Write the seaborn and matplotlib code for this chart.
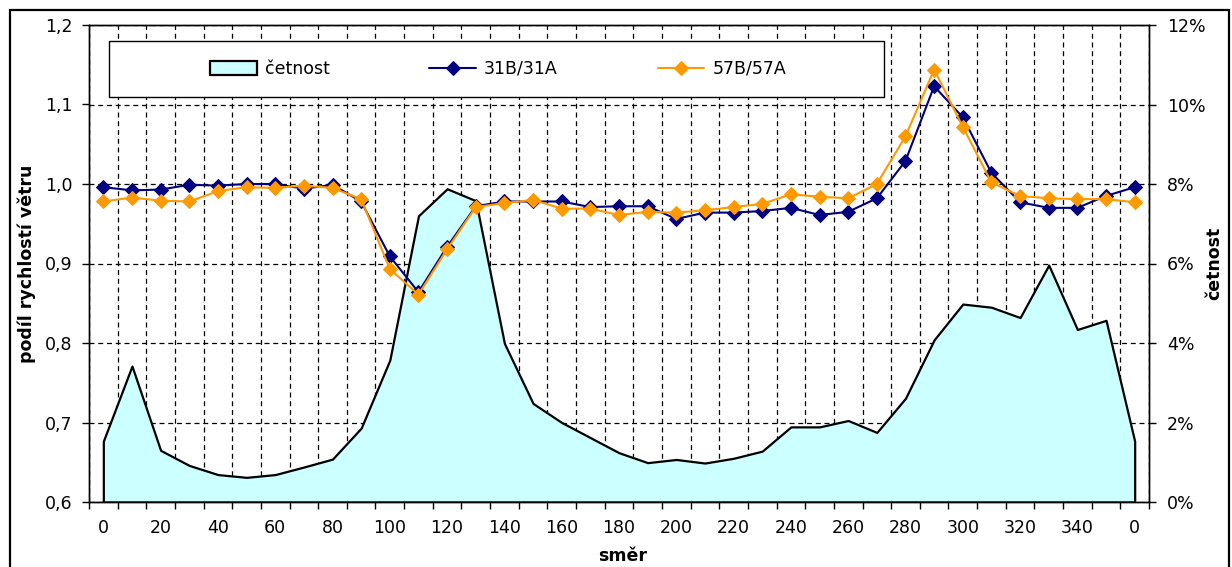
import numpy as np
import pandas as pd
import matplotlib
matplotlib.use("Agg")
import matplotlib.pyplot as plt
from matplotlib.patches import Rectangle
from matplotlib.ticker import FixedLocator
import seaborn as sns

# wind direction sectors (deg), closing back at 0
smer = [str(d) for d in range(0, 360, 10)] + ["0"]

# frequency of each direction sector [%]
cetnost = [1.53, 3.42, 1.30, 0.92, 0.69, 0.62, 0.69, 0.88, 1.08, 1.86,
           3.57, 7.20, 7.88, 7.58, 3.99, 2.48, 2.00, 1.62, 1.24, 0.99,
           1.07, 0.98, 1.10, 1.28, 1.89, 1.89, 2.05, 1.75, 2.61, 4.08,
           4.98, 4.90, 4.64, 5.96, 4.34, 4.57, 1.53]

# wind speed ratios between measuring points
pomer_31 = [0.996, 0.992, 0.993, 0.999, 0.998, 1.000, 1.000, 0.994, 0.999, 0.978,
            0.909, 0.864, 0.921, 0.972, 0.978, 0.978, 0.978, 0.971, 0.972, 0.972,
            0.956, 0.964, 0.964, 0.966, 0.970, 0.961, 0.965, 0.982, 1.029, 1.123,
            1.084, 1.014, 0.977, 0.970, 0.970, 0.985, 0.996]
pomer_57 = [0.978, 0.983, 0.979, 0.978, 0.991, 0.996, 0.995, 0.998, 0.995, 0.981,
            0.893, 0.861, 0.918, 0.971, 0.976, 0.980, 0.969, 0.969, 0.961, 0.965,
            0.964, 0.967, 0.971, 0.975, 0.987, 0.984, 0.982, 1.000, 1.060, 1.144,
            1.072, 1.002, 0.985, 0.982, 0.981, 0.981, 0.977]

left_ticks = [0.6, 0.7, 0.8, 0.9, 1.0, 1.1, 1.2]
left_labels = ["0,6", "0,7", "0,8", "0,9", "1,0", "1,1", "1,2"]
right_ticks = [0, 2, 4, 6, 8, 10, 12]
right_labels = ["0%", "2%", "4%", "6%", "8%", "10%", "12%"]

df = pd.DataFrame({"pos": np.arange(len(smer)), "smer": smer,
                   "cetnost": cetnost, "31B/31A": pomer_31, "57B/57A": pomer_57})

sns.set_theme(style="white")
plt.rcParams["font.family"] = ["DejaVu Sans"]
plt.rcParams["font.size"] = 12.5
for key in ("text.color", "axes.labelcolor", "xtick.color", "ytick.color",
            "axes.edgecolor"):
    plt.rcParams[key] = "black"

FS = 12.5
W, H = 1232, 567
AX_L, AX_R, AX_T, AX_B = 89, 1149, 25, 502
fig, ax_pct = plt.subplots(figsize=(W / 100, H / 100), dpi=100)
fig.subplots_adjust(left=AX_L / W, right=AX_R / W, top=1 - AX_T / H, bottom=1 - AX_B / H)

# frequency area (lower layer, carries the grid)
ax_pct.set_axisbelow(True)
ax_pct.fill_between(df["pos"], df["cetnost"], 0, facecolor="#CCFFFF",
                    edgecolor="black", linewidth=1.6, label="četnost", zorder=2)
n = len(smer)
ax_pct.set_xlim(-0.5, n - 0.5)
ax_pct.set_ylim(0, 12)
ax_pct.set_xticks(df["pos"][::2], [smer[i] for i in range(0, n, 2)])
ax_pct.xaxis.set_minor_locator(FixedLocator(np.arange(-0.5, n, 1.0)))
dash = (0, (4, 3))
ax_pct.grid(axis="y", which="major", color="black", linestyle=dash, linewidth=0.9)
ax_pct.grid(axis="x", which="minor", color="black", linestyle=dash, linewidth=0.9)
ax_pct.tick_params(axis="x", which="major", length=0, pad=12, labelsize=FS,
                   colors="black", labelcolor="black")
ax_pct.tick_params(axis="x", which="minor", length=5, width=1, direction="out",
                   bottom=True, color="black")
ax_pct.set_xlabel("směr", fontsize=FS, fontweight="bold", color="black")
ax_pct.xaxis.set_label_coords((623 - AX_L) / (AX_R - AX_L), (AX_B - 547) / (AX_B - AX_T))

# wind speed ratio lines (upper layer)
ax_rat = ax_pct.twinx()
sns.lineplot(data=df, x="pos", y="31B/31A", ax=ax_rat, color="#000080",
             marker="D", markersize=7, markeredgecolor="#000080",
             linewidth=1.5, label="31B/31A", zorder=3)
sns.lineplot(data=df, x="pos", y="57B/57A", ax=ax_rat, color="#FF9900",
             marker="D", markersize=7, markeredgecolor="#FF9900",
             linewidth=1.5, label="57B/57A", zorder=4)
ax_rat.set_xlim(-0.5, n - 0.5)
ax_rat.set_ylim(0.6, 1.2)
ax_rat.set_xlabel("")

# ratio axis on the left, frequency axis on the right
ax_rat.yaxis.tick_left()
ax_rat.yaxis.set_label_position("left")
ax_rat.set_yticks(left_ticks, left_labels)
ax_rat.tick_params(axis="y", which="major", length=5, width=1, direction="out",
                   left=True, right=False, labelleft=True, labelright=False,
                   pad=7, labelsize=FS, colors="black", labelcolor="black")
ax_rat.set_ylabel("podíl rychlostí větru", fontsize=FS, fontweight="bold", color="black")
ax_rat.yaxis.set_label_coords((36 - AX_L) / (AX_R - AX_L), 0.5)

ax_pct.yaxis.tick_right()
ax_pct.yaxis.set_label_position("right")
ax_pct.set_yticks(right_ticks, right_labels)
ax_pct.tick_params(axis="y", which="major", length=5, width=1, direction="out",
                   right=True, left=False, labelright=True, labelleft=False,
                   pad=8, labelsize=FS, colors="black", labelcolor="black")
ax_pct.set_ylabel("četnost", fontsize=FS, fontweight="bold", color="black")
ax_pct.yaxis.set_label_coords((1205 - AX_L) / (AX_R - AX_L), 0.5)

for a in (ax_pct, ax_rat):
    for sp in a.spines.values():
        sp.set_visible(True)
        sp.set_color("black")
        sp.set_linewidth(1.0)

# legend box across the top of the plot area
box = Rectangle((109 / W, 1 - 97 / H), (884 - 109) / W, (97 - 41) / H,
                transform=fig.transFigure, facecolor="white", edgecolor="black",
                linewidth=1.0, zorder=5)
ax_rat.add_patch(box)
h1, l1 = ax_pct.get_legend_handles_labels()
h2, l2 = ax_rat.get_legend_handles_labels()
leg = ax_rat.legend(h1 + h2, l1 + l2, ncol=3, loc="center",
                    bbox_to_anchor=(498 / W, 1 - 69 / H),
                    bbox_transform=fig.transFigure, frameon=False,
                    fontsize=FS, handlelength=2.7, handletextpad=0.45,
                    columnspacing=5.75, handleheight=0.8, labelcolor="black")
leg.set_zorder(6)

# chart frame
fig.add_artist(Rectangle((9.5 / W, -0.02), (1229 - 9.5) / W, 1.02 - 10 / H,
                         transform=fig.transFigure, fill=False,
                         edgecolor="black", linewidth=1.6))

fig.savefig("out.png", dpi=100)
